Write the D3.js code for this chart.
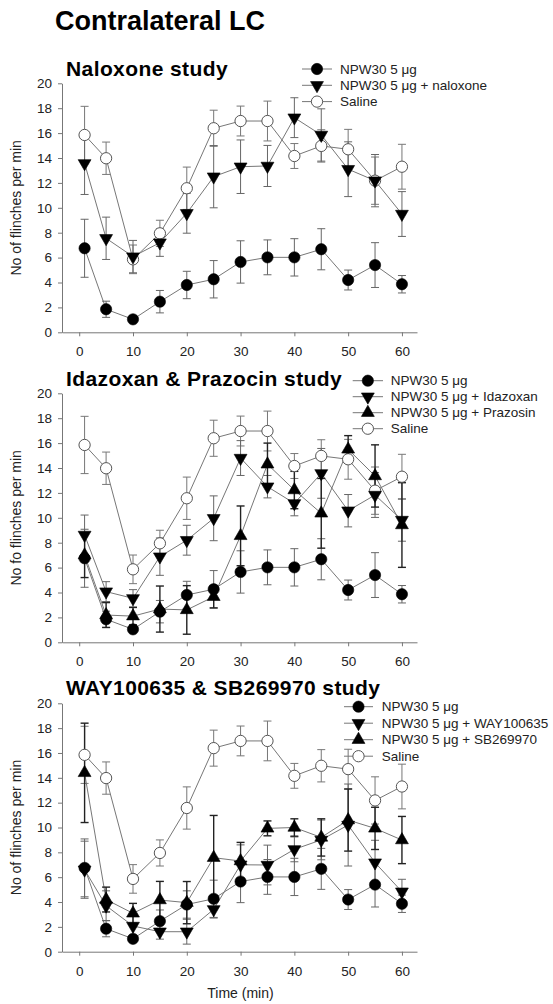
<!DOCTYPE html>
<html>
<head>
<meta charset="utf-8">
<script src="https://cdn.jsdelivr.net/npm/d3@7"></script>
<style>
  html, body { margin: 0; padding: 0; background: #fff; }
  svg { display: block; font-family: "Liberation Sans", Arial, sans-serif; }
</style>
</head>
<body>
<svg id="chart" width="553" height="1004"></svg>
<script>
// ---------- data ----------
const time = [1, 5, 10, 15, 20, 25, 30, 35, 40, 45, 50, 55, 60];
const xTicks = [0, 10, 20, 30, 40, 50, 60];
const yTicks = [0, 2, 4, 6, 8, 10, 12, 14, 16, 18, 20];

const npw = [6.75, 1.85, 1.04, 2.46, 3.8, 4.26, 5.65, 6.02, 6.02, 6.67, 4.2, 5.4, 3.86];
const npwErr = [2.33, 0.65, 0.2, 0.9, 1.1, 1.5, 1.7, 1.4, 1.5, 1.65, 0.8, 1.8, 0.7];

const saline = [15.85, 13.98, 5.86, 7.95, 11.57, 16.39, 16.97, 16.97, 14.16, 14.97, 14.7, 12.18, 13.3];
const salineErr = [2.3, 1.3, 1.15, 1.05, 1.7, 1.45, 1.2, 1.6, 1.0, 1.3, 1.6, 1.9, 1.8];

const naloxone = [13.57, 7.55, 6.08, 7.2, 9.56, 12.5, 13.3, 13.36, 17.24, 15.85, 13.1, 12.18, 9.5];
const naloxoneErr = [2.5, 1.7, 1.3, 1.1, 1.6, 2.5, 2.15, 1.65, 1.6, 2.1, 2.2, 2.1, 1.8];

const idazoxan = [8.62, 4.07, 3.53, 6.88, 8.2, 9.96, 14.8, 12.5, 11.16, 13.57, 10.57, 11.83, 9.82];
const idazoxanErr = [1.6, 0.8, 0.7, 1.5, 1.2, 1.8, 1.4, 0.9, 1.0, 2.0, 1.3, 1.8, 1.7];

const prazosin = [7.0, 2.19, 2.1, 2.67, 2.6, 3.66, 8.55, 14.3, 12.23, 10.36, 15.5, 13.36, 9.42];
const prazosinErr = [1.8, 1.0, 0.7, 1.85, 1.95, 0.9, 2.4, 1.7, 1.5, 2.8, 1.1, 2.5, 3.4];

const way = [6.6, 3.7, 2.07, 1.61, 1.61, 3.41, 7.0, 6.98, 8.24, 9.0, 10.2, 7.17, 4.83];
const wayErr = [2.3, 1.2, 0.8, 0.6, 1.0, 0.7, 1.6, 1.6, 1.0, 1.6, 3.3, 1.8, 1.0];

const sb = [14.4, 4.2, 3.09, 4.16, 3.95, 7.57, 7.3, 9.93, 10.0, 9.2, 10.6, 9.93, 8.99];
const sbErr = [4.0, 1.0, 0.8, 1.5, 1.7, 3.4, 1.5, 0.6, 0.7, 1.5, 2.5, 1.7, 1.9];

const mainTitle = "Contralateral LC";
const panelTitles = ["Naloxone study", "Idazoxan & Prazocin study", "WAY100635 & SB269970 study"];
const yLabels = ["No of flinches per min", "No fo flinches per min", "No of flinches per min"];
const xLabel = "Time (min)";

const labNPW = "NPW30 5 μg";
const labSaline = "Saline";

// ---------- series definitions ----------
const S = (label, values, errs, shape, errColor) => ({label, values, errs, shape, errColor});
const panels = [
  {
    title: panelTitles[0], ylab: yLabels[0],
    top: 83.3, bottom: 332.3, titleY: 76,
    legend: {x0: 302, x1: 332, tx: 340, y: 69, dy: 16.3},
    legendSeries: [
      S(labNPW, npw, npwErr, "circle", "#666"),
      S("NPW30 5 μg + naloxone", naloxone, naloxoneErr, "down", "#666"),
      S(labSaline, saline, salineErr, "open", "#777")
    ]
  },
  {
    title: panelTitles[1], ylab: yLabels[1],
    top: 393.3, bottom: 642.3, titleY: 386,
    legend: {x0: 352.7, x1: 383, tx: 390.7, y: 380.7, dy: 16},
    legendSeries: [
      S(labNPW, npw, npwErr, "circle", "#666"),
      S("NPW30 5 μg + Idazoxan", idazoxan, idazoxanErr, "down", "#666"),
      S("NPW30 5 μg + Prazosin", prazosin, prazosinErr, "up", "#222"),
      S(labSaline, saline, salineErr, "open", "#777")
    ]
  },
  {
    title: panelTitles[2], ylab: yLabels[2],
    top: 703.3, bottom: 951.7, titleY: 695,
    legend: {x0: 344, x1: 373, tx: 381.7, y: 706.7, dy: 16.5},
    legendSeries: [
      S(labNPW, npw, npwErr, "circle", "#666"),
      S("NPW30 5 μg + WAY100635", way, wayErr, "down", "#666"),
      S("NPW30 5 μg + SB269970", sb, sbErr, "up", "#222"),
      S(labSaline, saline, salineErr, "open", "#777")
    ]
  }
];

// ---------- drawing ----------
const svg = d3.select("#chart");
const x = d3.scaleLinear().domain([-3.2, 62.8]).range([62, 417]);
const axisColor = "#777";
const textColor = "#222";
const lineColor = "#777";

svg.append("text")
  .attr("x", 55).attr("y", 29.5)
  .attr("font-size", 27).attr("font-weight", "bold").attr("fill", "#000")
  .text(mainTitle);

function symbolPath(shape) {
  if (shape === "circle" || shape === "open") return d3.symbol().type(d3.symbolCircle).size(100)();
  return d3.symbol().type(d3.symbolTriangle).size(72)();
}
function drawMarker(g, shape, cx, cy) {
  const p = g.append("path")
    .attr("d", symbolPath(shape))
    .attr("transform", `translate(${cx},${cy})` + (shape === "down" ? " rotate(180)" : ""));
  if (shape === "open") p.attr("fill", "#fff").attr("stroke", "#555").attr("stroke-width", 1);
  else p.attr("fill", "#000").attr("stroke", "#000").attr("stroke-width", 0.6);
}

panels.forEach(P => {
  const y = d3.scaleLinear().domain([0, 20]).range([P.bottom, P.top]);
  const g = svg.append("g");

  // axes
  const ax = g.append("g").attr("transform", `translate(0,${P.bottom})`)
    .call(d3.axisBottom(x).tickValues(xTicks).tickSize(4).tickPadding(10.5).tickSizeOuter(0));
  const ay = g.append("g").attr("transform", `translate(62,0)`)
    .call(d3.axisLeft(y).tickValues(yTicks).tickSize(4).tickPadding(6).tickSizeOuter(0));
  [ax, ay].forEach(a => {
    a.select(".domain").attr("stroke", axisColor);
    a.selectAll(".tick line").attr("stroke", axisColor);
    a.selectAll(".tick text").attr("fill", textColor).attr("font-size", 13.5)
      .attr("font-family", "Liberation Sans, Arial, sans-serif");
  });

  // y label
  g.append("text")
    .attr("transform", `translate(21,${(P.top + P.bottom) / 2}) rotate(-90)`)
    .attr("text-anchor", "middle").attr("font-size", 14).attr("fill", textColor)
    .text(P.ylab);

  // title
  g.append("text").attr("x", 66).attr("y", P.titleY)
    .attr("font-size", 21).attr("font-weight", "bold").attr("letter-spacing", 0.4).attr("fill", "#000")
    .text(P.title);

  // draw order: saline first, then others
  const order = [P.legendSeries[P.legendSeries.length - 1], ...P.legendSeries.slice(0, -1)];
  const line = d3.line().x((d, i) => x(time[i])).y(d => y(d));

  order.forEach(s => {
    g.append("path").datum(s.values).attr("d", line)
      .attr("fill", "none").attr("stroke", lineColor).attr("stroke-width", 1);
  });
  order.forEach(s => {
    const eg = g.append("g").attr("stroke", s.errColor).attr("stroke-width", s.errColor === "#222" ? 1.4 : 1);
    s.values.forEach((v, i) => {
      const cx = x(time[i]);
      const y1 = y(v + s.errs[i]), y0 = y(v - s.errs[i]);
      eg.append("line").attr("x1", cx).attr("x2", cx).attr("y1", y1).attr("y2", y0);
      eg.append("line").attr("x1", cx - 4).attr("x2", cx + 4).attr("y1", y1).attr("y2", y1);
      eg.append("line").attr("x1", cx - 4).attr("x2", cx + 4).attr("y1", y0).attr("y2", y0);
    });
  });
  order.forEach(s => {
    const mg = g.append("g");
    s.values.forEach((v, i) => drawMarker(mg, s.shape, x(time[i]), y(v)));
  });

  // legend
  const L = P.legend;
  P.legendSeries.forEach((s, k) => {
    const cy = L.y + k * L.dy;
    const cx = (L.x0 + L.x1) / 2;
    g.append("line").attr("x1", L.x0).attr("x2", L.x1).attr("y1", cy).attr("y2", cy)
      .attr("stroke", lineColor).attr("stroke-width", 1);
    drawMarker(g, s.shape, cx, cy);
    g.append("text").attr("x", L.tx).attr("y", cy).attr("dy", "0.35em")
      .attr("font-size", 13.5).attr("fill", textColor).text(s.label);
  });
});

svg.append("text").attr("x", 240.5).attr("y", 998)
  .attr("text-anchor", "middle").attr("font-size", 14).attr("fill", textColor)
  .text(xLabel);
</script>
</body>
</html>
